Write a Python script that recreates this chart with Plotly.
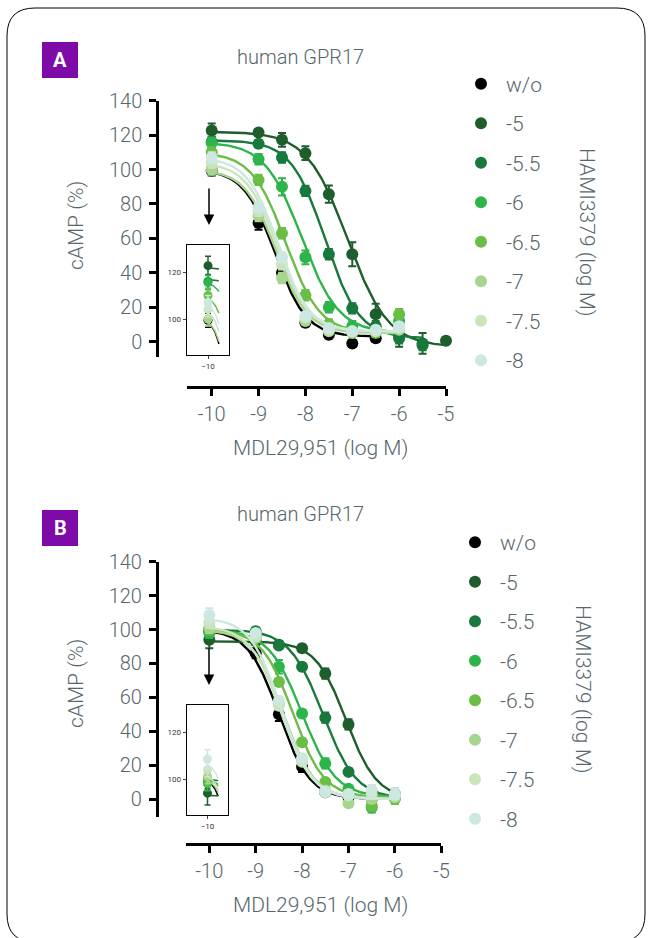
import numpy as np
import plotly.graph_objects as go

W, H = 650, 938


def px(x):
    return x / W


def py(y):
    return 1 - y / H


TXT = "#56666c"
FONT = "Roboto"
PURPLE = "#7d0aa9"

# ---------------- data ----------------
series_names = ["w/o", "-5", "-5.5", "-6", "-6.5", "-7", "-7.5", "-8"]
series_colors = ["#000000", "#1d5e2c", "#18793c", "#2db54b", "#6abd45",
                 "#a7d48f", "#cae5bc", "#cde7e1"]

x_ticks = [-10, -9, -8, -7, -6, -5]
y_ticks = [0, 20, 40, 60, 80, 100, 120, 140]

# Panel A (MDL29,951 log M)
xA = [-10, -9, -8.5, -8, -7.5, -7, -6.5, -6, -5.5, -5]
A_wo = [99.5, 69, 40, 11, 4, -1, 2, None, None, None]
A_m5 = [122.7, 121.5, 117.3, 109.5, 85.7, 50.8, 16, 3, -1, 0.5]
A_m55 = [116, 115, 107, 87.6, 50.8, 19.4, 9, 2, -2, None]
A_m6 = [115.5, 106, 90, 49, 20, 9, 6, 12, None, None]
A_m65 = [110, 94, 63, 27, 10, 6, 5, 16, None, None]
A_m7 = [100, 73, 37, 12, 6, 5, 6, 7, None, None]
A_m75 = [104, 76, 45, 14, 7, 6, 6, 8, None, None]
A_m8 = [107, 78, 49, 15, 8, 6, 7, 9, None, None]
A_err_wo = [3, 4, 3, 2, 2, 2, 2, 0, 0, 0]
A_err_m5 = [4, 2, 4, 4, 5, 7, 6, 6, 6, 2]
A_err_m55 = [3, 2, 3, 3, 3, 3, 3, 3, 3, 0]
A_err_m6 = [3, 3, 5, 4, 3, 3, 3, 3, 0, 0]
A_err_m65 = [3, 3, 3, 3, 3, 2, 2, 3, 0, 0]
A_err_m7 = [3, 3, 3, 2, 2, 2, 2, 2, 0, 0]
A_err_m75 = [3, 3, 3, 2, 2, 2, 2, 2, 0, 0]
A_err_m8 = [3, 3, 3, 2, 2, 2, 2, 2, 0, 0]
# fitted curve parameters: top, bottom, logIC50, Hill slope, last x
A_top = [100, 122, 117, 116, 110, 100, 104, 107]
A_bottom = [3, -3, 2, 5, 5, 5, 6, 6]
A_logic50 = [-8.65, -7.1, -7.58, -8.08, -8.42, -8.62, -8.6, -8.58]
A_hill = [1.3, 1.0, 1.2, 1.1, 1.2, 1.3, 1.3, 1.3]
A_xend = [-6.5, -5, -5.5, -6, -6, -6, -6, -6]

# Panel B
xB = [-10, -9, -8.5, -8, -7.5, -7, -6.5, -6]
B_wo = [100, 86, 50, 19, 4, 1, 0, 1]
B_m5 = [94, 93, 91, 89, 74, 44, None, 2]
B_m55 = [99, 99, 90.5, 78, 48, 16, 4, 3]
B_m6 = [98, 96, 78, 50.5, 21, 6, -5, 2]
B_m65 = [100, 97, 69, 33.5, 10, 2, -4, 0]
B_m7 = [101, 95, 56.5, 23, 5, -2.5, 0, 1]
B_m75 = [104, 96, 55, 22, 4, 2, 3, 2]
B_m8 = [108.5, 98, 58, 24, 4.3, 3, 5.3, 3]
B_err_wo = [3, 3, 4, 3, 2, 2, 2, 2]
B_err_m5 = [5, 2, 2, 2, 3, 3, 0, 3]
B_err_m55 = [3, 2, 2, 2, 3, 2, 2, 3]
B_err_m6 = [3, 2, 4, 2, 3, 2, 3, 3]
B_err_m65 = [3, 2, 2, 2, 2, 2, 3, 3]
B_err_m7 = [3, 2, 2, 2, 2, 2, 2, 2]
B_err_m75 = [3, 2, 2, 2, 2, 2, 2, 2]
B_err_m8 = [4, 2, 2, 2, 2, 2, 3, 3]
B_top = [100, 93, 100, 100, 100, 100, 102, 107]
B_bottom = [0, 0, 0, 1, 1, 0, 0, 0]
B_logic50 = [-8.5, -7.05, -7.55, -8.0, -8.2, -8.4, -8.45, -8.45]
B_hill = [1.3, 1.31, 1.2, 1.2, 1.3, 1.3, 1.3, 1.3]
B_xend = [-6, -6, -6, -6, -6, -6, -6, -6]

A_vals = [A_wo, A_m5, A_m55, A_m6, A_m65, A_m7, A_m75, A_m8]
A_errs = [A_err_wo, A_err_m5, A_err_m55, A_err_m6, A_err_m65, A_err_m7, A_err_m75, A_err_m8]
B_vals = [B_wo, B_m5, B_m55, B_m6, B_m65, B_m7, B_m75, B_m8]
B_errs = [B_err_wo, B_err_m5, B_err_m55, B_err_m6, B_err_m65, B_err_m7, B_err_m75, B_err_m8]


def four_pl(x, top, bottom, c, h):
    return bottom + (top - bottom) / (1 + 10 ** ((x - c) * h))


fig = go.Figure()


def add_panel(xs, vals, errs, tops, bottoms, cs, hs, xends, xa, ya, xi, yi, legend):
    for i, name in enumerate(series_names):
        col = series_colors[i]
        xc = np.linspace(-10, xends[i], 200)
        yc = four_pl(xc, tops[i], bottoms[i], cs[i], hs[i])
        fig.add_trace(go.Scatter(x=xc, y=yc, mode="lines", line=dict(color=col, width=2.4),
                                 xaxis=xa, yaxis=ya, showlegend=False, hoverinfo="skip"))
        fig.add_trace(go.Scatter(x=xs, y=vals[i], mode="markers",
                                 marker=dict(color=col, size=12),
                                 error_y=dict(type="data", array=errs[i], color=col,
                                              thickness=2, width=4),
                                 xaxis=xa, yaxis=ya, name=name, legend=legend,
                                 legendgroup=legend + name, showlegend=True,
                                 cliponaxis=False))
        # inset (zoom at x = -10)
        xci = np.linspace(-10, -9.35, 50)
        yci = four_pl(xci, tops[i], bottoms[i], cs[i], hs[i])
        fig.add_trace(go.Scatter(x=xci, y=yci, mode="lines", line=dict(color=col, width=1.5),
                                 xaxis=xi, yaxis=yi, showlegend=False, hoverinfo="skip"))
        fig.add_trace(go.Scatter(x=[xs[0]], y=[vals[i][0]], mode="markers",
                                 marker=dict(color=col, size=9),
                                 error_y=dict(type="data", array=[errs[i][0]], color=col,
                                              thickness=1.5, width=3),
                                 xaxis=xi, yaxis=yi, showlegend=False))


add_panel(xA, A_vals, A_errs, A_top, A_bottom, A_logic50, A_hill, A_xend,
          "x", "y", "x3", "y3", "legend")
add_panel(xB, B_vals, B_errs, B_top, B_bottom, B_logic50, B_hill, B_xend,
          "x2", "y2", "x4", "y4", "legend2")

tickfont = dict(family=FONT, size=20, color=TXT, weight=300)
inset_font = dict(family="Roboto", size=8, color="#333333")


def main_x(x0, x10, x5, yline):
    ppu = (x5 - x10) / 5.0
    left = -10 - (x10 - x0) / ppu
    return dict(domain=[px(x0), px(x5)], range=[left, -5], anchor="free", position=py(yline),
                showline=True, linecolor="black", linewidth=2.5, ticks="outside",
                ticklen=7, tickwidth=2.5, tickcolor="black", tickvals=x_ticks,
                ticktext=[str(v) for v in x_ticks], tickfont=tickfont, showgrid=False,
                zeroline=False, ticklabelstandoff=1, automargin=False)


def main_y(xline, ytop, y0, ybot):
    ppu = (y0 - ytop) / 140.0
    bottom = -(ybot - y0) / ppu
    return dict(domain=[py(ybot), py(ytop)], range=[bottom, 140], anchor="free",
                position=px(xline), showline=True, linecolor="black", linewidth=2.5,
                ticks="outside", ticklen=7, tickwidth=2.5, tickcolor="black",
                tickvals=y_ticks, tickfont=tickfont, showgrid=False, zeroline=False,
                ticklabelstandoff=3, automargin=False)


def inset_x(x0, x1, anchor):
    return dict(domain=[px(x0), px(x1)], range=[-11.27, -8.73], anchor=anchor,
                showline=True, mirror=True, linecolor="black", linewidth=1.3,
                ticks="outside", ticklen=3, tickwidth=1, tickvals=[-10],
                tickfont=inset_font, showgrid=False, zeroline=False, automargin=False)


def inset_y(y0, y1, anchor):
    return dict(domain=[py(y1), py(y0)], range=[84.7, 131.5], anchor=anchor,
                showline=True, mirror=True, linecolor="black", linewidth=1.3,
                ticks="outside", ticklen=3, tickwidth=1, tickvals=[100, 120],
                tickfont=inset_font, showgrid=False, zeroline=False, automargin=False)


legend_common = dict(xanchor="left", yanchor="top",
                     font=dict(family=FONT, size=21, color=TXT, weight=300),
                     itemwidth=40, tracegroupgap=9.2, bgcolor="rgba(0,0,0,0)",
                     borderwidth=0, itemclick=False, itemdoubleclick=False)

# rounded border
bx0, by0, bx1, by1, r = 7, 8, 645, 942, 28
border = (f"M {px(bx0 + r)},{py(by0)} L {px(bx1 - r)},{py(by0)} "
          f"Q {px(bx1)},{py(by0)} {px(bx1)},{py(by0 + r)} L {px(bx1)},{py(by1 - r)} "
          f"Q {px(bx1)},{py(by1)} {px(bx1 - r)},{py(by1)} L {px(bx0 + r)},{py(by1)} "
          f"Q {px(bx0)},{py(by1)} {px(bx0)},{py(by1 - r)} L {px(bx0)},{py(by0 + r)} "
          f"Q {px(bx0)},{py(by0)} {px(bx0 + r)},{py(by0)} Z")

shapes = [
    dict(type="path", path=border, xref="paper", yref="paper",
         line=dict(color="black", width=1), layer="below"),
    dict(type="rect", xref="paper", yref="paper", x0=px(42), x1=px(78), y0=py(78), y1=py(42),
         fillcolor=PURPLE, line=dict(width=0)),
    dict(type="rect", xref="paper", yref="paper", x0=px(42), x1=px(78), y0=py(546), y1=py(510),
         fillcolor=PURPLE, line=dict(width=0)),
]


def ann(x, y, text, size=21, angle=0, color=TXT, bold=False):
    return dict(x=px(x), y=py(y), xref="paper", yref="paper", text=text, showarrow=False,
                textangle=angle, xanchor="center", yanchor="middle",
                font=dict(family=FONT, size=size, color=color,
                          weight="bold" if bold else 300))


annotations = [
    ann(60, 60, "A", size=20, color="white", bold=True),
    ann(60, 528, "B", size=20, color="white", bold=True),
    ann(300, 57, "human GPR17", size=20),
    ann(300, 514, "human GPR17", size=20),
    ann(76, 226, "cAMP (%)", angle=-90),
    ann(76, 684, "cAMP (%)", angle=-90),
    ann(320, 448, "MDL29,951 (log M)"),
    ann(320, 905, "MDL29,951 (log M)"),
    ann(587, 232, "HAMI3379 (log M)", angle=90),
    ann(583, 689, "HAMI3379 (log M)", angle=90),
    dict(x=px(209), y=py(225), xref="paper", yref="paper", ax=0, ay=-38, text="",
         showarrow=True, arrowhead=2, arrowsize=1.4, arrowwidth=1.5, arrowcolor="black"),
    dict(x=px(209), y=py(685), xref="paper", yref="paper", ax=0, ay=-38, text="",
         showarrow=True, arrowhead=2, arrowsize=1.4, arrowwidth=1.5, arrowcolor="black"),
]

fig.update_layout(
    width=W, height=H, margin=dict(l=0, r=0, t=0, b=0, autoexpand=False),
    paper_bgcolor="white", plot_bgcolor="rgba(0,0,0,0)",
    xaxis=main_x(186.7, 211.7, 446, 387),
    yaxis=main_y(157, 100.7, 341.7, 357),
    xaxis2=main_x(186, 209.3, 441.3, 844.3),
    yaxis2=main_y(156.7, 561.7, 799, 816.7),
    xaxis3=inset_x(186.7, 229.3, "y3"),
    yaxis3=inset_y(245, 355, "x3"),
    xaxis4=inset_x(186.7, 228.3, "y4"),
    yaxis4=inset_y(705, 815, "x4"),
    legend=dict(x=px(456), y=py(63.5), **legend_common),
    legend2=dict(x=px(450), y=py(522), **legend_common),
    shapes=shapes, annotations=annotations, showlegend=True,
)

fig.write_html("out.html")
